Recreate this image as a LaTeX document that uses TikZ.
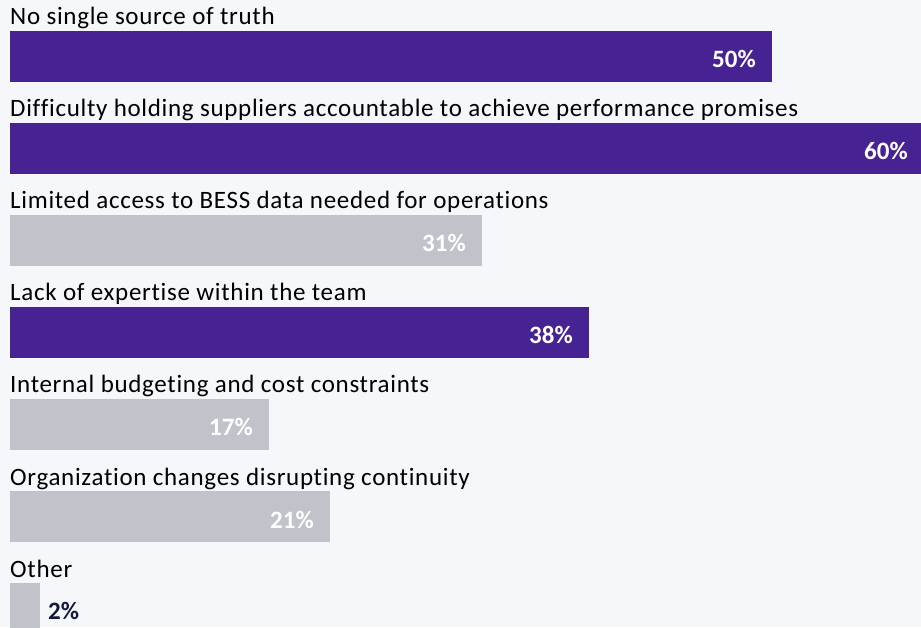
\documentclass[tikz,border=0pt]{standalone}
\usepackage{fontspec}
\setmainfont{Carlito}
\newfontfamily\lblfont[LetterSpace=2.8,Ligatures=NoCommon]{Carlito}
\definecolor{bg}{HTML}{F6F7FB}
\definecolor{purp}{HTML}{462293}
\definecolor{grayb}{HTML}{C0C3CA}
\definecolor{navy}{HTML}{141B3A}
\begin{document}
\begin{tikzpicture}[x=1pt,y=1pt,
  lbl/.style={anchor=base west,inner sep=0pt,font=\lblfont\fontsize{25}{30}\selectfont,text=black},
  pct/.style={anchor=base east,inner sep=0pt,font=\fontsize{25}{30}\selectfont\bfseries,text=white},
  barp/.style={fill=purp,draw=none},
  barg/.style={fill=grayb,draw=none}]
\useasboundingbox (0,0) rectangle (921,627);
\fill[bg] (0,0) rectangle (921,627);
\begin{scope}
\clip (0,0) rectangle (921,627);
% bar k top at y = 31+92k (px from top); tikz y = 627 - px
\foreach \k/\txt/\xe/\st/\p in {
 0/No single source of truth/772/barp/50,
 1/Difficulty holding suppliers accountable to achieve performance promises/924/barp/60,
 2/Limited access to BESS data needed for operations/482/barg/31,
 3/Lack of expertise within the team/589/barp/38,
 4/Internal budgeting and cost constraints/269/barg/17,
 5/Organization changes disrupting continuity/330/barg/21}{
  \pgfmathsetmacro{\yt}{627-31-92*\k}
  \node[lbl] (t\k) at (10,\yt+6) {\txt};
  \path[\st] (10,\yt) rectangle (\xe,\yt-51) coordinate (be\k);
  \node[pct] (p\k) at (\xe-16,\yt-37) {\p\%};
}
\node[lbl] (t6) at (10,627-583+6) {Other};
\path[barg] (10,627-583) rectangle (40,-10);
\node[pct,anchor=base west,text=navy] (p6) at (48,627-619) {2\%};
\end{scope}
\end{tikzpicture}
\end{document}
